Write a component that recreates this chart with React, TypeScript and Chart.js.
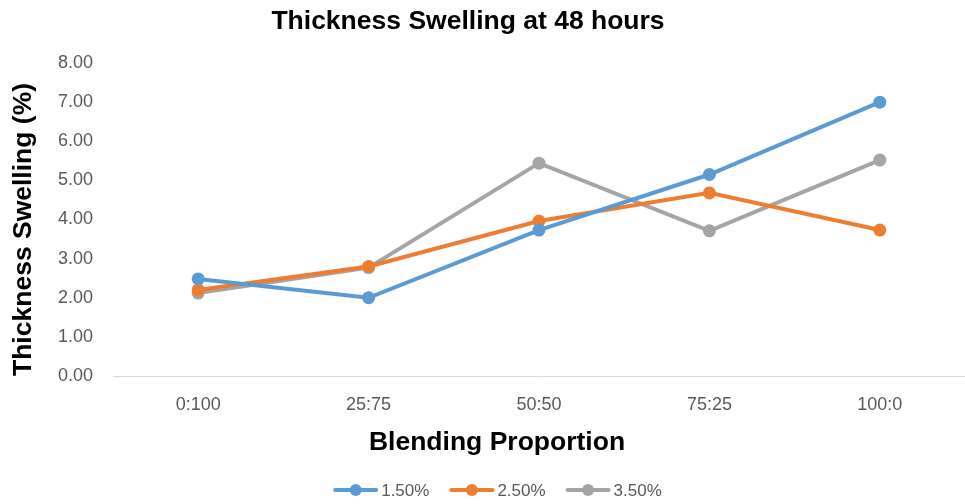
import React, { useEffect, useRef } from "react";
import { Chart, registerables } from "chart.js";
Chart.register(...registerables);

const categories = ["0:100", "25:75", "50:50", "75:25", "100:0"];
const seriesNames = ["1.50%", "2.50%", "3.50%"];
const series15 = [2.48, 2.0, 3.73, 5.15, 7.0];
const series25 = [2.2, 2.8, 3.96, 4.68, 3.73];
const series35 = [2.12, 2.77, 5.44, 3.71, 5.52];
const colors = ["#5B9BD5", "#ED7D31", "#A5A5A5"];
const chartTitle = "Thickness Swelling at 48 hours";
const xTitle = "Blending Proportion";
const yTitle = "Thickness Swelling (%)";

const BOLD = "bold 26.5px 'Liberation Sans'";
const LEGEND_FONT = "17px 'Liberation Sans'";

const textPlugin = {
  id: "excelTexts",
  afterDraw(chart: any) {
    const ctx = chart.ctx as CanvasRenderingContext2D;
    ctx.save();
    ctx.fillStyle = "#000000";
    ctx.font = BOLD;
    ctx.textAlign = "center";
    ctx.textBaseline = "middle";
    ctx.fillText(chartTitle, 468, 22);
    ctx.fillText(xTitle, 497, 443);

    // legend
    ctx.font = LEGEND_FONT;
    const markerW = 45;
    const gapText = 3;
    const gapItem = 20;
    const widths = seriesNames.map((n) => markerW + gapText + ctx.measureText(n).width);
    const total = widths.reduce((a, b) => a + b, 0) + gapItem * (widths.length - 1);
    let x = 497.5 - total / 2;
    const y = 490;
    seriesNames.forEach((n, i) => {
      ctx.strokeStyle = colors[i];
      ctx.fillStyle = colors[i];
      ctx.lineWidth = 4;
      ctx.lineCap = "round";
      ctx.beginPath();
      ctx.moveTo(x + 2, y);
      ctx.lineTo(x + markerW - 2, y);
      ctx.stroke();
      ctx.beginPath();
      ctx.arc(x + markerW / 2, y, 6, 0, Math.PI * 2);
      ctx.fill();
      ctx.fillStyle = "#595959";
      ctx.textAlign = "left";
      ctx.fillText(n, x + markerW + gapText, y + 1);
      x += widths[i] + gapItem;
    });
    ctx.restore();
  },
};

export default function App() {
  const ref = useRef<HTMLCanvasElement>(null);
  useEffect(() => {
    document.body.style.margin = "0";
    const data = [series15, series25, series35];
    const chart = new Chart(ref.current!, {
      type: "line",
      data: {
        labels: categories,
        datasets: data.map((d, i) => ({
          label: seriesNames[i],
          data: d,
          borderColor: colors[i],
          backgroundColor: colors[i],
          borderWidth: 4,
          pointRadius: 6.5,
          pointHoverRadius: 6.5,
          pointBorderWidth: 0,
          tension: 0,
        })),
      },
      plugins: [textPlugin],
      options: {
        animation: false,
        responsive: false,
        layout: { autoPadding: false, padding: { left: 0, right: 0, top: 63, bottom: 0 } },
        plugins: {
          title: { display: false },
          legend: { display: false },
          tooltip: { enabled: false },
        },
        scales: {
          x: {
            offset: true,
            grid: { display: false, drawTicks: false },
            border: { display: true, color: "#D9D9D9", width: 1 },
            ticks: {
              font: { family: "Liberation Sans", size: 18 },
              color: "#595959",
              padding: 18,
            },
            afterFit: (s: any) => {
              s.height = 128;
            },
          },
          y: {
            min: 0,
            max: 8,
            grid: { display: false, drawTicks: false },
            border: { display: false },
            ticks: {
              stepSize: 1,
              font: { family: "Liberation Sans", size: 18 },
              color: "#595959",
              padding: 20,
              callback: (v: any) => Number(v).toFixed(2),
            },
            title: {
              display: true,
              text: yTitle,
              align: "start",
              font: { family: "Liberation Sans", size: 26.5, weight: "bold" },
              color: "#000000",
              padding: { top: 8, bottom: 6 },
            },
            afterFit: (s: any) => {
              s.width = 113;
            },
          },
        },
      },
    });
    return () => chart.destroy();
  }, []);
  return <canvas ref={ref} width={965} height={504} />;
}
